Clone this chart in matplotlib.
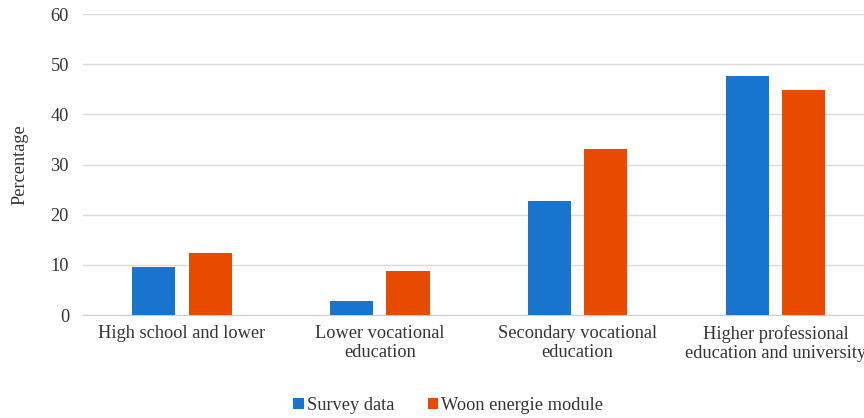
import matplotlib.pyplot as plt
import numpy as np

plt.rcParams['font.family'] = ['Liberation Serif', 'DejaVu Serif']

# data
categories = ['High school and lower', 'Lower vocational\neducation',
              'Secondary vocational\neducation', 'Higher professional\neducation and university']
survey = [9.5, 2.8, 22.7, 47.6]
woon = [12.4, 8.8, 33.1, 44.8]

blue = '#1874CD'
orange = '#E84A00'
txt = '#333333'
fs = 13.2

fig = plt.figure(figsize=(8.64, 4.18), dpi=100)
ax = fig.add_axes([0.096, 0.2464, 0.916, 0.72])

x = np.arange(len(categories))
w = 0.218
off = 0.143
ax.bar(x - off, survey, w, color=blue, label='Survey data', zorder=3)
ax.bar(x + off, woon, w, color=orange, label='Woon energie module', zorder=3)

ax.set_xlim(-0.5, 3.5)
ax.set_ylim(0, 60)
ax.set_yticks(range(0, 61, 10))
ax.grid(axis='y', color='#d9d9d9', linewidth=1, zorder=0)
for s in ['top', 'right', 'left']:
    ax.spines[s].set_visible(False)
ax.spines['bottom'].set_color('#d0d0d0')
ax.tick_params(axis='both', length=0, colors=txt, labelsize=fs)
ax.tick_params(axis='y', pad=10)
ax.tick_params(axis='x', pad=7)
ax.set_xticks(x)
ax.set_xticklabels(categories, fontsize=fs, color=txt, linespacing=1.2)
ax.set_ylabel('Percentage', fontsize=fs, color=txt, labelpad=16)

ax.legend(loc='lower center', bbox_to_anchor=(0.519, -0.03), bbox_transform=fig.transFigure,
          ncol=2, frameon=False, fontsize=fs, handlelength=0.55, handleheight=0.55,
          handletextpad=0.2, columnspacing=1.8, labelcolor=txt)

fig.savefig('out.png', dpi=100)
